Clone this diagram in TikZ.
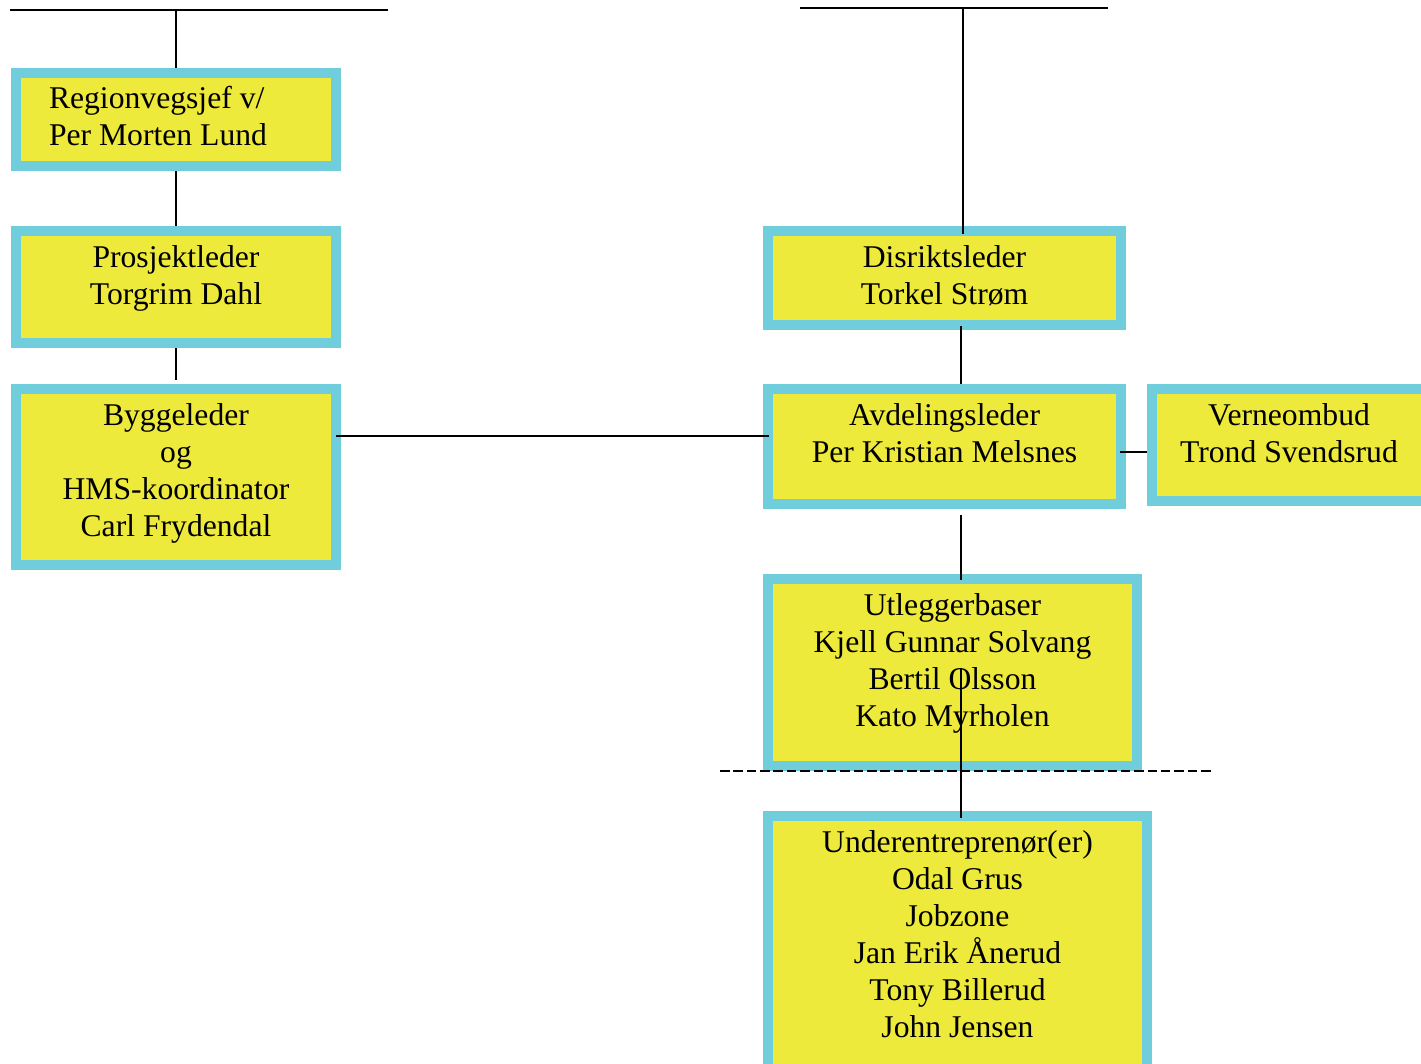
\documentclass[tikz,border=0pt]{standalone}
\usepackage{fontspec}
\setmainfont{Liberation Serif}
\usetikzlibrary{calc}
\definecolor{boxcyan}{RGB}{112,205,219}
\definecolor{boxyellow}{RGB}{238,234,59}

\begin{document}
\begin{tikzpicture}[x=0.01cm,y=-0.01cm,
  box/.style={draw=boxcyan,fill=boxyellow,line width=0.1cm,inner sep=0pt},
  txt/.style={anchor=north,align=center,inner sep=0pt,font=\fontsize{9}{10.5}\selectfont},
  conn/.style={line width=0.55pt},
  dashline/.style={conn,dash pattern=on 2.7pt off 1.1pt}]
% picture coordinates are pixels, y pointing down
\useasboundingbox (0,0) rectangle (1421,1064);
% boxes
\node[box,minimum width=3.20cm,minimum height=0.93cm] (reg) at (176,119.5) {};
\node[box,minimum width=3.20cm,minimum height=1.12cm] (prosj) at (176,287) {};
\node[box,minimum width=3.20cm,minimum height=1.76cm] (bygg) at (176,477) {};
\node[box,minimum width=3.53cm,minimum height=0.94cm] (dist) at (944.5,278) {};
\node[box,minimum width=3.53cm,minimum height=1.15cm] (avd) at (944.5,446.5) {};
\node[box,minimum width=2.74cm,minimum height=1.12cm] (verne) at (1289,445) {};
\node[box,minimum width=3.69cm,minimum height=1.87cm] (utl) at (952.5,672.5) {};
\node[box,minimum width=3.79cm,minimum height=2.58cm] (under) at (957.5,945) {};
% texts
\node[txt,align=left] (reg-t) at ($(reg.north)+(-18,18)$) {Regionvegsjef v/\\Per Morten Lund};
\node[txt] (prosj-t) at ($(prosj.north)+(0,19)$) {Prosjektleder\\Torgrim Dahl};
\node[txt] (bygg-t) at ($(bygg.north)+(0,19)$) {Byggeleder\\og\\HMS-koordinator\\Carl Frydendal};
\node[txt] (dist-t) at ($(dist.north)+(0,19)$) {Disriktsleder\\Torkel Strøm};
\node[txt] (avd-t) at ($(avd.north)+(0,19)$) {Avdelingsleder\\Per Kristian Melsnes};
\node[txt] (verne-t) at ($(verne.north)+(0,19)$) {Verneombud\\Trond Svendsrud};
\node[txt] (utl-t) at ($(utl.north)+(0,19)$) {Utleggerbaser\\Kjell Gunnar Solvang\\Bertil Olsson\\Kato Myrholen};
\node[txt] (under-t) at ($(under.north)+(0,19)$) {Underentreprenør(er)\\Odal Grus\\Jobzone\\Jan Erik Ånerud\\Tony Billerud\\John Jensen};
% top bars
\coordinate (tl-a) at (10,10);
\coordinate (tl-b) at (388,10);
\coordinate (tr-a) at (800,8);
\coordinate (tr-b) at (1108,8);
\coordinate (tr-m) at (963,8);
\draw[conn] (tl-a) -- (tl-b);
\draw[conn] (tr-a) -- (tr-b);
% connectors
\draw[conn] (reg.north |- tl-a) -- (reg.north);
\draw[conn] (reg.south) -- (prosj.north);
\draw[conn] (prosj.south) -- ($(bygg.north)+(0,-4)$);
\draw[conn] ($(bygg.east)+(-5,-41)$) -- ($(avd.west)+(6,-10.5)$);
\draw[conn] (tr-m) -- ($(tr-m |- dist.north)+(0,8)$);
\draw[conn] ($(dist.south)+(16.5,-4)$) -- ($(avd.north)+(16.5,0)$);
\draw[conn] ($(avd.east)+(-6,5.5)$) -- ($(verne.west)+(0,7)$);
\draw[conn] ($(avd.south)+(16.5,6)$) -- ($(utl.north)+(8.5,6)$);
\draw[conn] ($(utl.center)+(8.5,-5)$) -- ($(under.north)+(3.5,7)$);
% dashed border line
\coordinate (dl) at (720,771);
\coordinate (dr) at (1212,771);
\draw[dashline] (dl) -- (dr);
\end{tikzpicture}
\end{document}
